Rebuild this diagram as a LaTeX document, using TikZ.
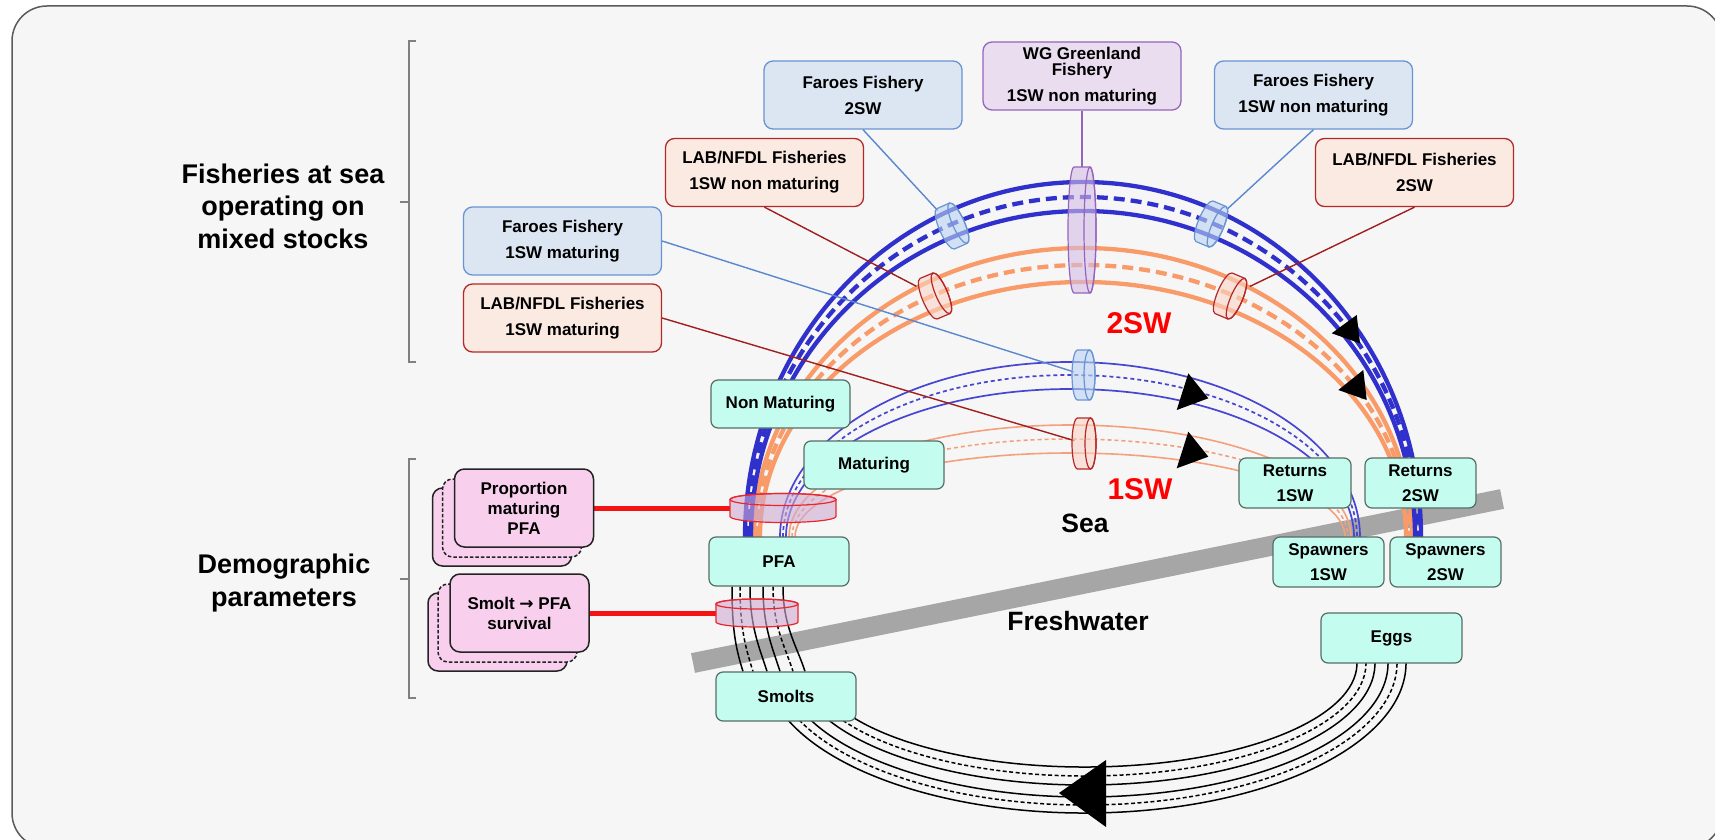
\documentclass[tikz,border=0pt]{standalone}
\usepackage{fontspec}
\setmainfont{Liberation Sans}
\newfontfamily\arrowfont{DejaVu Sans}
\pgfdeclarelayer{back}
\pgfdeclarelayer{mid}
\pgfsetlayers{back,mid,main}

\definecolor{bgc}{RGB}{246,246,246}
\definecolor{frameC}{RGB}{90,90,90}
\definecolor{brkC}{RGB}{128,128,128}
\definecolor{bandC}{RGB}{166,166,166}
\definecolor{blueA}{RGB}{48,48,205}
\definecolor{orngA}{RGB}{249,155,105}
\definecolor{blueT}{RGB}{70,70,210}
\definecolor{orngT}{RGB}{244,160,125}
\definecolor{stF}{RGB}{196,252,240}
\definecolor{stB}{RGB}{85,110,100}
\definecolor{farF}{RGB}{220,230,243}
\definecolor{farB}{RGB}{105,148,212}
\definecolor{labF}{RGB}{251,234,225}
\definecolor{labB}{RGB}{180,40,40}
\definecolor{wgF}{RGB}{234,221,240}
\definecolor{wgB}{RGB}{150,100,188}
\definecolor{parF}{RGB}{248,208,238}
\definecolor{parB}{RGB}{35,35,35}
\definecolor{redL}{RGB}{245,20,20}
\definecolor{cylRB}{RGB}{236,36,46}
\definecolor{cylRF}{RGB}{205,170,210}
\definecolor{farCF}{RGB}{185,210,240}
\definecolor{labCF}{RGB}{250,212,198}
\definecolor{wgCF}{RGB}{212,188,228}
\definecolor{conB}{RGB}{90,135,205}
\definecolor{conR}{RGB}{160,30,30}

% #1 centre coordinate, #2 rotation, #3 half body length, #4 end-ellipse radius, #5 radius, #6 draw, #7 fill
\newcommand{\netcyl}[7]{%
  \begin{scope}[shift={(#1)}, rotate=#2]
    \filldraw[draw=#6, fill=#7, fill opacity=0.6, line width=1.2pt]
      (-#3,-#5) -- (#3,-#5) arc[start angle=-90, end angle=90, x radius=#4, y radius=#5]
      -- (-#3,#5) arc[start angle=90, end angle=270, x radius=#4, y radius=#5] -- cycle;
    \draw[draw=#6, line width=1.2pt] (#3,0) ellipse[x radius=#4, y radius=#5];
  \end{scope}}

\tikzset{
 brk/.style={draw=brkC, line width=2.5pt},
 big/.style={font=\bfseries\fontsize{27}{32.5}\selectfont, align=center, text=black},
 fishbox/.style={rounded corners=9pt, line width=1.3pt, minimum width=198pt, minimum height=68pt, inner sep=0pt, align=center, font=\bfseries\fontsize{17}{26}\selectfont, text=black},
 faroe/.style={fishbox, draw=farB, fill=farF},
 lab/.style={fishbox, draw=labB, fill=labF},
 wg/.style={fishbox, draw=wgB, fill=wgF},
 stage/.style={draw=stB, fill=stF, rounded corners=7pt, line width=1.2pt, inner sep=0pt, align=center, font=\bfseries\fontsize{17}{25}\selectfont, text=black},
 param/.style={draw=parB, fill=parF, rounded corners=10pt, line width=1.5pt, minimum width=139pt, minimum height=78pt, inner sep=0pt, align=center, font=\bfseries\fontsize{17}{20}\selectfont, text=black},
 paramdash/.style={param, dash pattern=on 3.5pt off 2pt},
 blue2/.style={draw=blueA, line width=4.3pt},
 blue2d/.style={blue2, dash pattern=on 11pt off 6pt},
 orng2/.style={draw=orngA, line width=4.3pt},
 orng2d/.style={orng2, dash pattern=on 11pt off 6pt},
 blue1/.style={draw=blueT, line width=1.7pt},
 blue1d/.style={blue1, dash pattern=on 4pt off 3pt},
 orng1/.style={draw=orngT, line width=1.6pt},
 orng1d/.style={orng1, dash pattern=on 4pt off 3pt},
 fwl/.style={draw=black, line width=1.5pt},
 fwd/.style={fwl, dash pattern=on 4pt off 2.5pt},
 conF/.style={draw=conB, line width=1.4pt},
 conL/.style={draw=conR, line width=1.4pt},
 conW/.style={draw=wgB, line width=1.4pt},
 redcon/.style={draw=redL, line width=5pt},
 lbl/.style={font=\bfseries\fontsize{26.5}{32}\selectfont, text=black},
 swlbl/.style={font=\bfseries\fontsize{30}{36}\selectfont, text=red},
 tri/.style={fill=black},
}

\begin{document}
\begin{tikzpicture}[x=1pt,y=-1pt]
\useasboundingbox (0,0) rectangle (1715,840);

% ---------- coordinates ----------
\coordinate (c2) at (1083,537);
\coordinate (c1) at (1070,537);
\coordinate (fwc) at (1085,663);
\coordinate (cylWG) at (1082,230);
\coordinate (cylF2) at (952,226);
\coordinate (cylF1nm) at (1211,224);
\coordinate (cylL1nm) at (935,296);
\coordinate (cylL2) at (1230,296);
\coordinate (cylF1m) at (1083.5,375);
\coordinate (cylL1m) at (1084,443.5);
\coordinate (cylP) at (783,508);
\coordinate (cylS) at (757,613);
\coordinate (bandL) at (693,663);
\coordinate (bandR) at (1502,499);

% ---------- boxes (main layer) ----------
\node[faroe] (f2sw) at (863,95) {Faroes Fishery\\2SW};
\node[wg] (wg) at (1082,76) {WG Greenland\\[-10pt]Fishery\\1SW non maturing};
\node[faroe] (f1nm) at (1313.5,95) {Faroes Fishery\\1SW non maturing};
\node[lab] (lab1nm) at (764.5,172.5) {LAB/NFDL Fisheries\\1SW non maturing};
\node[lab] (lab2) at (1414.5,172.5) {LAB/NFDL Fisheries\\2SW};
\node[faroe] (f1mat) at (562.5,241) {Faroes Fishery\\1SW maturing};
\node[lab] (lab1mat) at (562.5,318) {LAB/NFDL Fisheries\\1SW maturing};

\node[stage, minimum width=139pt, minimum height=48pt] (nonmat) at (780.5,404) {Non Maturing};
\node[stage, minimum width=140pt, minimum height=48pt] (mat) at (874,465) {Maturing};
\node[stage, minimum width=140pt, minimum height=49pt] (pfa) at (779,561.5) {PFA};
\node[stage, minimum width=140pt, minimum height=49pt] (smolts) at (786,696.5) {Smolts};
\node[stage, minimum width=112pt, minimum height=50pt] (ret1) at (1295,483) {Returns\\1SW};
\node[stage, minimum width=111pt, minimum height=50pt] (ret2) at (1420.5,483) {Returns\\2SW};
\node[stage, minimum width=111pt, minimum height=50pt] (spw1) at (1328.5,562) {Spawners\\1SW};
\node[stage, minimum width=111pt, minimum height=50pt] (spw2) at (1445.5,562) {Spawners\\2SW};
\node[stage, minimum width=141pt, minimum height=50pt] (eggs) at (1391.5,638) {Eggs};

\node[param] (propC) at (502,527) {};
\node[paramdash] (propB) at (512,518) {};
\node[param] (prop) at (524,508) {Proportion\\maturing\\PFA};
\node[param] (smoltC) at (497.5,632) {};
\node[paramdash] (smoltB) at (507.5,623) {};
\node[param] (smoltp) at (519.5,613) {Smolt {\arrowfont →} PFA\\survival};

\node[big] (lblFish) at (283,206) {Fisheries at sea\\operating on\\mixed stocks};
\node[big] (lblDemo) at (284,583) {Demographic\\parameters};
\node[swlbl] (l2sw) at (1139,323) {2SW};
\node[swlbl] (l1sw) at (1140,489) {1SW};
\node[lbl] (sea) at (1085,523) {Sea};
\node[lbl] (fresh) at (1078,621) {Freshwater};

% ---------- background ----------
\begin{pgfonlayer}{back}
\fill[white] (0,0) rectangle (1715,840);
\filldraw[fill=bgc, draw=frameC, line width=1.5pt, rounded corners=35pt] (12,6) rectangle (1722,848);
\draw[brk] (416,41) -- (409,41) -- (409,362) -- (416,362);
\draw[brk] (409,202) -- (400,202);
\draw[brk] (416,459) -- (409,459) -- (409,698) -- (416,698);
\draw[brk] (409,579) -- (400,579);
\draw[bandC, line width=20pt] (bandL) -- (bandR);
\end{pgfonlayer}

% ---------- flows ----------
\begin{pgfonlayer}{mid}
% freshwater loop (Smolts <- Eggs)
\draw[fwl] ([shift={(170:272 and 104)}]fwc) arc[start angle=170, end angle=-5, x radius=272, y radius=104];
\draw[fwd] ([shift={(170:281 and 113)}]fwc) arc[start angle=170, end angle=-5, x radius=281, y radius=113];
\draw[fwl] ([shift={(170:290 and 122)}]fwc) arc[start angle=170, end angle=-5, x radius=290, y radius=122];
\draw[fwl] ([shift={(170:303 and 134)}]fwc) arc[start angle=170, end angle=-5, x radius=303, y radius=134];
\draw[fwd] ([shift={(170:312 and 142)}]fwc) arc[start angle=170, end angle=-5, x radius=312, y radius=142];
\draw[fwl] ([shift={(170:321 and 150)}]fwc) arc[start angle=170, end angle=-5, x radius=321, y radius=150];
% PFA -> Smolts
\foreach \xa/\xb/\sty in {-47/-43/fwl, -39/-33/fwd, -29/-19/fwl, -16/-6/fwl, -6/7/fwd, 4/19/fwl}
  \draw[\sty] ([xshift=\xa pt]pfa.south) .. controls ([xshift=\xa pt, yshift=-40pt]pfa.south)
     and ([xshift=\xb pt - 8pt, yshift=25pt]smolts.north) .. ([xshift=\xb pt]smolts.north);

% 1SW arcs
\draw[orng1] ([shift={(180:281 and 112)}]c1) arc[start angle=180, end angle=360, x radius=281, y radius=112];
\draw[orng1d] ([shift={(180:278 and 98)}]c1) arc[start angle=180, end angle=360, x radius=278, y radius=98];
\draw[orng1] ([shift={(180:275 and 84)}]c1) arc[start angle=180, end angle=360, x radius=275, y radius=84];
\draw[blue1] ([shift={(180:290 and 175)}]c1) arc[start angle=180, end angle=360, x radius=290, y radius=175];
\draw[blue1d] ([shift={(180:287 and 162)}]c1) arc[start angle=180, end angle=360, x radius=287, y radius=162];
\draw[blue1] ([shift={(180:284 and 148)}]c1) arc[start angle=180, end angle=360, x radius=284, y radius=148];
% 2SW arcs
\draw[orng2] ([shift={(180:329 and 289)}]c2) arc[start angle=180, end angle=360, x radius=329, y radius=289];
\draw[orng2d] ([shift={(180:326 and 272)}]c2) arc[start angle=180, end angle=360, x radius=326, y radius=272];
\draw[orng2] ([shift={(180:323 and 255)}]c2) arc[start angle=180, end angle=360, x radius=323, y radius=255];
\draw[blue2] ([shift={(180:338 and 355)}]c2) arc[start angle=180, end angle=360, x radius=338, y radius=355];
\draw[blue2d] ([shift={(180:335 and 340)}]c2) arc[start angle=180, end angle=360, x radius=335, y radius=340];
\draw[blue2] ([shift={(180:332 and 326)}]c2) arc[start angle=180, end angle=360, x radius=332, y radius=326];

% fishery connectors
\draw[conF, shorten >=21pt] (f2sw.south) -- (cylF2);
\draw[conW, shorten >=63pt] (wg.south) -- (cylWG);
\draw[conF, shorten >=22pt] (f1nm.south) -- (cylF1nm);
\draw[conL, shorten >=21pt] (lab1nm.south) -- (cylL1nm);
\draw[conL, shorten >=22pt] (lab2.south) -- (cylL2);
\draw[conF, shorten >=10pt] (f1mat.east) -- (cylF1m);
\draw[conL, shorten >=10pt] (lab1mat.east) -- (cylL1m);
\draw[redcon, shorten >=53pt] (prop.east) -- (cylP);
\draw[redcon, shorten >=41pt] (smoltp.east) -- (cylS);

% cylinders
\netcyl{cylWG}{0}{8}{6}{63}{wgB}{wgCF}
\netcyl{cylF2}{24}{7}{6}{22}{farB}{farCF}
\netcyl{cylF1nm}{-23}{7}{6}{22}{farB}{farCF}
\netcyl{cylL1nm}{23}{7}{6}{22}{labB}{labCF}
\netcyl{cylL2}{-23}{7}{6}{22}{labB}{labCF}
\netcyl{cylF1m}{0}{6}{5.5}{25}{farB}{farCF}
\netcyl{cylL1m}{0}{6.5}{5.5}{25.5}{labB}{labCF}
\netcyl{cylP}{90}{8.5}{6}{53}{cylRB}{cylRF}
\netcyl{cylS}{90}{9}{5}{41}{cylRB}{cylRF}

% arrowheads
\fill[tri] (1331.7,333.3) -- (1356.7,315) -- (1360,343.3) -- cycle;
\fill[tri] (1338.3,390) -- (1363.3,370) -- (1366.7,400) -- cycle;
\fill[tri] (1188.3,373.3) -- (1176.7,410) -- (1208.3,398.3) -- cycle;
\fill[tri] (1188.3,431.7) -- (1176.7,468.3) -- (1208.3,456.7) -- cycle;
\fill[tri] (1106,760) -- (1106,827) -- (1059,793) -- cycle;
\end{pgfonlayer}
\end{tikzpicture}
\end{document}
